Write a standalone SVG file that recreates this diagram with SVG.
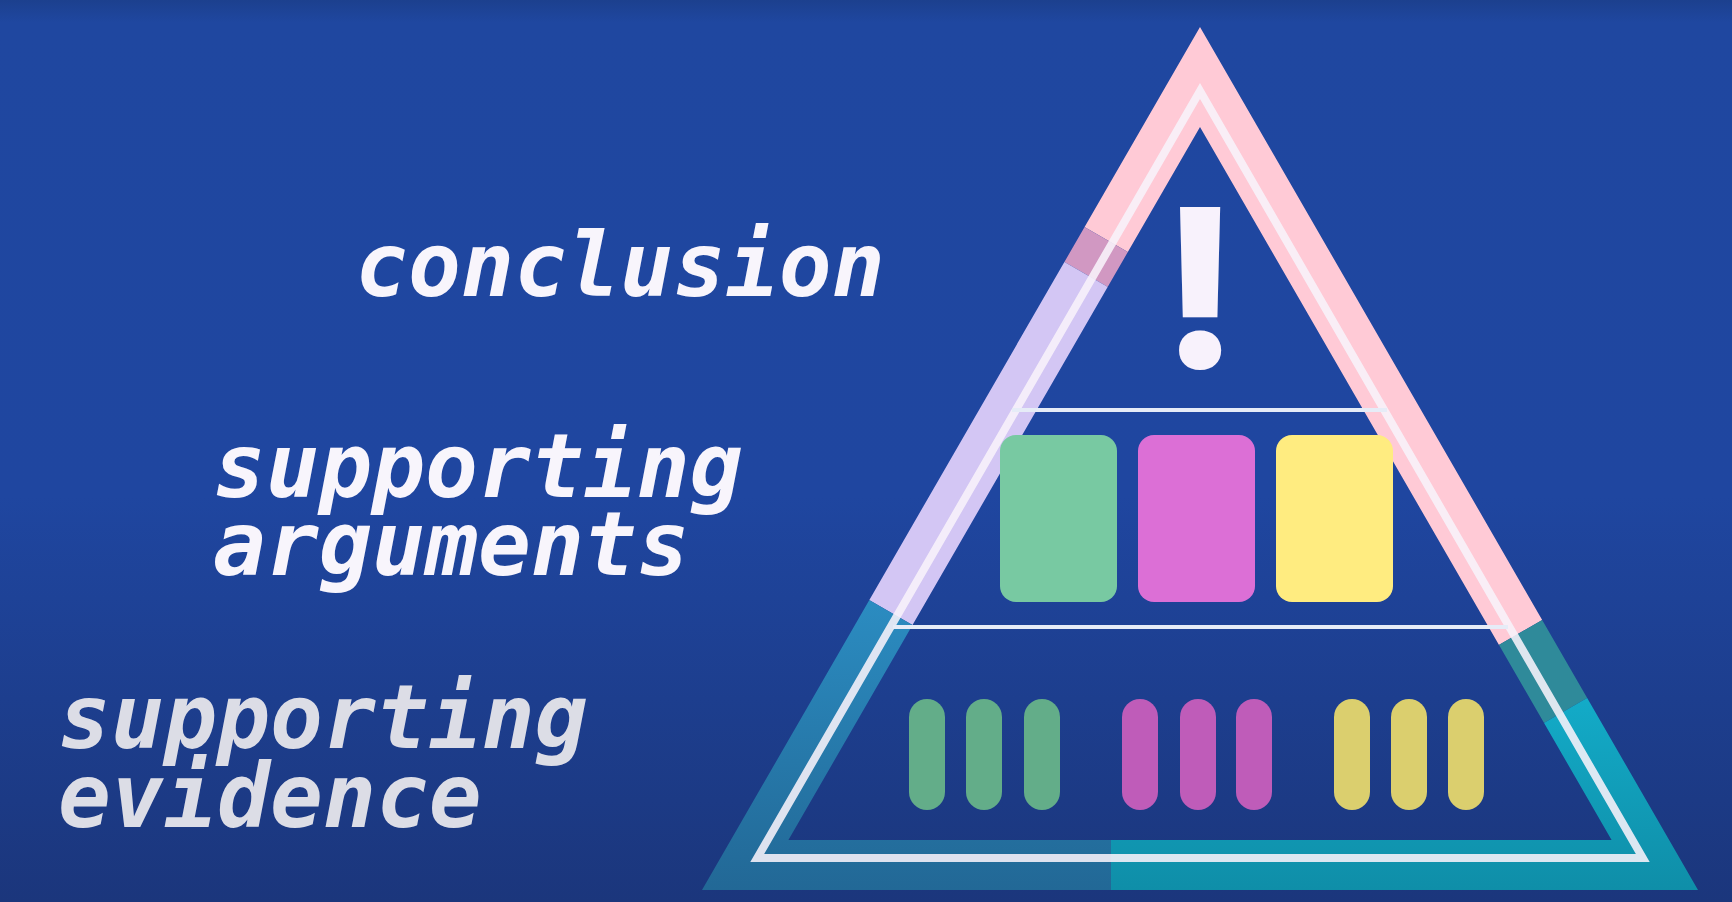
<svg xmlns="http://www.w3.org/2000/svg" width="1732" height="902" viewBox="0 0 1732 902">
  <defs>
    <linearGradient id="bg" x1="0" y1="0" x2="0" y2="1">
      <stop offset="0" stop-color="#1c408e"/>
      <stop offset="0.025" stop-color="#1f47a0"/>
      <stop offset="0.55" stop-color="#1f46a0"/>
      <stop offset="1" stop-color="#1b367c"/>
    </linearGradient>
    <linearGradient id="blueBand" gradientUnits="userSpaceOnUse" x1="0" y1="600" x2="0" y2="890">
      <stop offset="0" stop-color="#2b8cc1"/>
      <stop offset="1" stop-color="#226896"/>
    </linearGradient>
    <linearGradient id="cyanBand" gradientUnits="userSpaceOnUse" x1="0" y1="698" x2="0" y2="890">
      <stop offset="0" stop-color="#13abc8"/>
      <stop offset="1" stop-color="#0f8ea8"/>
    </linearGradient>
    <clipPath id="bandClip">
      <path clip-rule="evenodd" d="M1200,27 L702,890 L1698,890 Z M1200,127 L788.4,840 L1611.6,840 Z"/>
    </clipPath>
    <style>
      .label { font-family: "DejaVu Sans Mono", "Liberation Mono", monospace; font-weight: bold; font-style: oblique; font-size: 88px; }
      .bright { fill: #f8f5fc; }
      .dim { fill: #dcdde6; }
      .divider { stroke: #e6ecf7; stroke-width: 4; }
      .card { rx: 16px; ry: 16px; }
      .pill { rx: 18px; ry: 18px; }
    </style>
  </defs>

  <rect id="background" x="0" y="0" width="1732" height="902" fill="url(#bg)"/>

  <g id="pyramid-band" clip-path="url(#bandClip)">
    <polygon fill="#ffcad6" points="998,0 998,177 1188.4,287 1438.3,680 1628.8,570 1628.8,0"/>
    <polygon fill="#d198c2" points="998,177 1188.4,287 1168.4,322 977.8,212"/>
    <polygon fill="#d3c6f4" points="977.8,212 1168.4,322 973.1,660 782.6,550"/>
    <polygon fill="url(#blueBand)" points="782.6,550 973.1,660 1111,660 1111,900 600,900"/>
    <polygon fill="#2f8a9a" points="1628.8,570 1438.3,680 1483.2,758 1673.7,648"/>
    <polygon fill="url(#cyanBand)" points="1673.7,648 1483.2,758 1111,758 1111,900 1800,900 1800,648"/>
  </g>
  <polygon id="pyramid-inner-line" points="1200,91 757.2,858 1642.8,858" fill="none" stroke="#f8f2fa" stroke-opacity="0.88" stroke-width="8" stroke-linejoin="miter" stroke-miterlimit="10"/>

  <g id="dividers">
    <line class="divider" x1="1012" y1="410" x2="1387" y2="410"/>
    <line class="divider" x1="893" y1="627" x2="1508" y2="627"/>
  </g>

  <g id="conclusion">
    <text class="label bright" x="355" y="296">conclusion</text>
    <text x="1200" y="368" text-anchor="middle" font-family="Inter, 'Noto Sans', sans-serif" font-weight="800" font-size="221" fill="#f8f2fc">!</text>
  </g>

  <g id="supporting-arguments">
    <text class="label bright"><tspan x="213" y="497">supporting</tspan><tspan x="213" y="575">arguments</tspan></text>
    <rect class="card" x="1000" y="435" width="117" height="167" fill="#78c9a2"/>
    <rect class="card" x="1138" y="435" width="117" height="167" fill="#dc6fd6"/>
    <rect class="card" x="1276" y="435" width="117" height="167" fill="#ffec80"/>
  </g>

  <g id="supporting-evidence">
    <text class="label dim"><tspan x="58" y="748">supporting</tspan><tspan x="58" y="827">evidence</tspan></text>
    <rect class="pill" x="909" y="699" width="36" height="111" fill="#63ad89"/>
    <rect class="pill" x="966" y="699" width="36" height="111" fill="#63ad89"/>
    <rect class="pill" x="1024" y="699" width="36" height="111" fill="#63ad89"/>
    <rect class="pill" x="1122" y="699" width="36" height="111" fill="#bf5cb9"/>
    <rect class="pill" x="1180" y="699" width="36" height="111" fill="#bf5cb9"/>
    <rect class="pill" x="1236" y="699" width="36" height="111" fill="#bf5cb9"/>
    <rect class="pill" x="1334" y="699" width="36" height="111" fill="#dbcf6e"/>
    <rect class="pill" x="1391" y="699" width="36" height="111" fill="#dbcf6e"/>
    <rect class="pill" x="1448" y="699" width="36" height="111" fill="#dbcf6e"/>
  </g>
</svg>
